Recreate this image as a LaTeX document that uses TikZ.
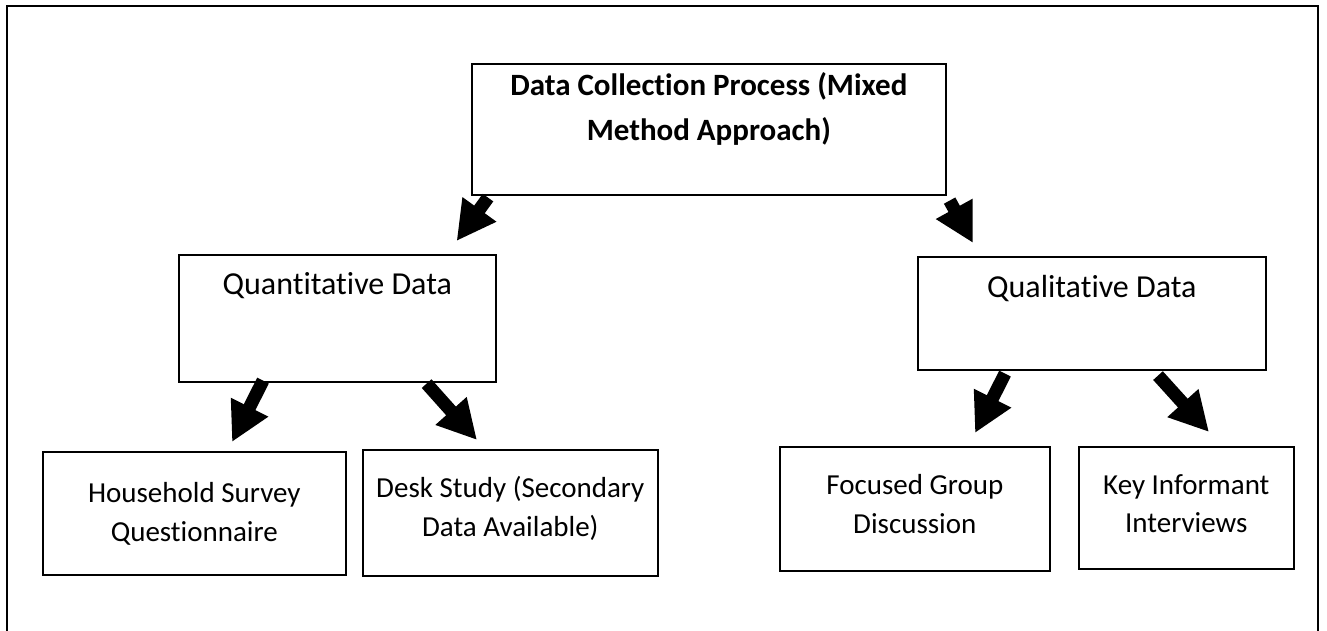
\documentclass[tikz,border=0pt]{standalone}
\usepackage{fontspec}
\setmainfont{Carlito}[Ligatures=NoCommon]
\usetikzlibrary{arrows.meta,calc}

\begin{document}
\begin{tikzpicture}[x=1pt,y=-1pt,
  box/.style={draw,line width=1.6pt,inner sep=0pt,anchor=north west},
  lbl/.style={anchor=base,inner sep=0pt,font=\fontsize{32}{38}\selectfont},
  small/.style={anchor=base,inner sep=0pt,font=\fontsize{29}{36}\selectfont},
  ttl/.style={anchor=base,inner sep=0pt,font=\fontsize{31}{38}\selectfont\bfseries},
  bigarrow/.style={line width=13pt,-{Triangle[length=39pt,width=39pt]}}]

\useasboundingbox (0,0) rectangle (1327,630);

% page frame, open at the bottom
\draw[line width=1.6pt] (7,634) -- (7,6) -- (1318,6) -- (1318,634);

% boxes
\node[box,minimum width=474pt,minimum height=131pt] (main)  at (471,63)  {};
\node[box,minimum width=317pt,minimum height=127pt] (quant) at (178,254) {};
\node[box,minimum width=348pt,minimum height=113pt] (qual)  at (917,256) {};
\node[box,minimum width=303pt,minimum height=123pt] (house) at (42,451)  {};
\node[box,minimum width=295pt,minimum height=126pt] (desk)  at (362,449) {};
\node[box,minimum width=270pt,minimum height=124pt] (focus) at (779,446) {};
\node[box,minimum width=215pt,minimum height=122pt] (key)   at (1078,446) {};

% labels
\node[ttl] (mainA) at ($(main.north)+(0,32)$) {Data Collection Process (Mixed};
\node[ttl] (mainB) at ($(main.north)+(0,77)$) {Method Approach)};
\node[lbl] (quantA) at ($(quant.north)+(0,40)$) {Quantitative Data};
\node[lbl] (qualA)  at ($(qual.north)+(0,41)$)  {Qualitative Data};
\node[small] (houseA) at ($(house.north)+(0,51)$) {Household Survey};
\node[small] (houseB) at ($(house.north)+(0,90)$) {Questionnaire};
\node[small] (deskA)  at ($(desk.north)+(0,48)$)  {Desk Study (Secondary};
\node[small] (deskB)  at ($(desk.north)+(0,87)$)  {Data Available)};
\node[small] (focusA) at ($(focus.north)+(0,48)$) {Focused Group};
\node[small] (focusB) at ($(focus.north)+(0,87)$) {Discussion};
\node[small] (keyA)   at ($(key.north)+(0,48)$)   {Key Informant};
\node[small] (keyB)   at ($(key.north)+(0,86)$)   {Interviews};

% arrow end points
\coordinate (t1) at ($(main.south west)+(17,2)$);
\coordinate (h1) at ($(quant.north east)+(-40,-13)$);
\coordinate (t2) at ($(main.south east)+(3,5)$);
\coordinate (h2) at ($(qual.north west)+(56,-13)$);
\coordinate (t3) at ($(quant.south west)+(85,-2)$);
\coordinate (h3) at ($(house.north west)+(190,-9)$);
\coordinate (t4) at ($(quant.south east)+(-70,1)$);
\coordinate (h4) at ($(desk.north west)+(115,-9)$);
\coordinate (t5) at ($(qual.south west)+(88,3)$);
\coordinate (h5) at ($(focus.north west)+(196,-13)$);
\coordinate (t6) at ($(qual.south west)+(241,5)$);
\coordinate (h6) at ($(key.north west)+(131,-14)$);

% arrows
\draw[bigarrow] (t1) -- (h1);
\draw[bigarrow] (t2) -- (h2);
\draw[bigarrow] (t3) -- (h3);
\draw[bigarrow] (t4) -- (h4);
\draw[bigarrow] (t5) -- (h5);
\draw[bigarrow] (t6) -- (h6);
\end{tikzpicture}
\end{document}
